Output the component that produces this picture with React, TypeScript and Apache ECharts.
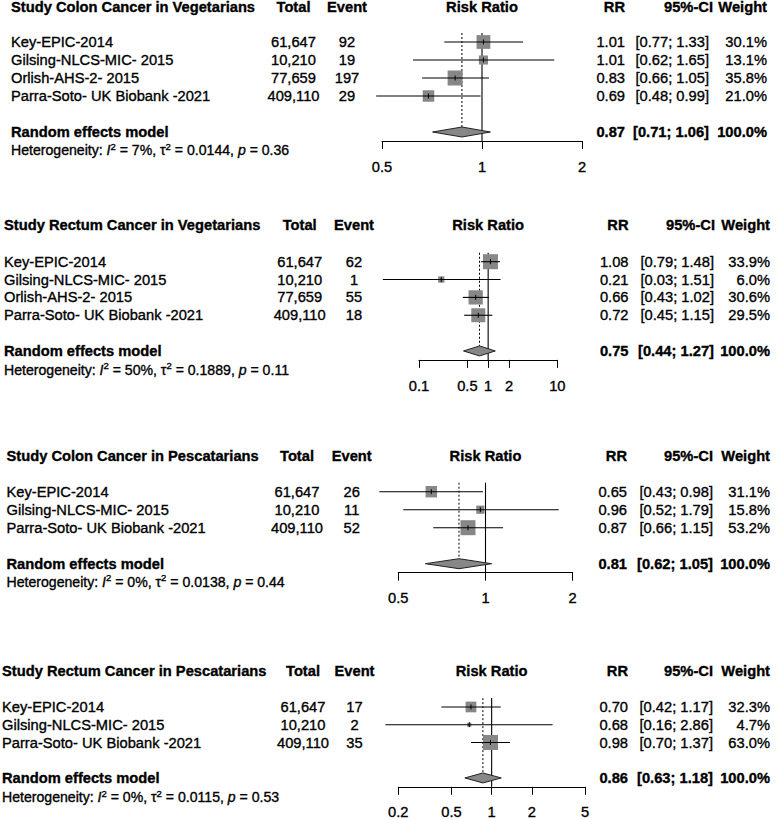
import React, { useEffect, useRef } from "react";
import * as echarts from "echarts";

// ---------- Data ----------
const studyNames4 = ["Key-EPIC-2014", "Gilsing-NLCS-MIC- 2015", "Orlish-AHS-2- 2015", "Parra-Soto- UK Biobank -2021"];
const studyNames3 = ["Key-EPIC-2014", "Gilsing-NLCS-MIC- 2015", "Parra-Soto- UK Biobank -2021"];
const totals4 = [61647, 10210, 77659, 409110];
const totals3 = [61647, 10210, 409110];

// Panel 1: Colon cancer, vegetarians
const p1Title = "Study Colon Cancer in Vegetarians";
const p1Events = [92, 19, 197, 29];
const p1RR = [1.01, 1.01, 0.83, 0.69];
const p1Lower = [0.77, 0.62, 0.66, 0.48];
const p1Upper = [1.33, 1.65, 1.05, 0.99];
const p1Weight = [30.1, 13.1, 35.8, 21.0];
const p1Summary = [0.87, 0.71, 1.06];
const p1Het = ["7%", "0.0144", "0.36"];
const p1Ticks = [0.5, 1, 2];

// Panel 2: Rectum cancer, vegetarians
const p2Title = "Study Rectum Cancer in Vegetarians";
const p2Events = [62, 1, 55, 18];
const p2RR = [1.08, 0.21, 0.66, 0.72];
const p2Lower = [0.79, 0.03, 0.43, 0.45];
const p2Upper = [1.48, 1.51, 1.02, 1.15];
const p2Weight = [33.9, 6.0, 30.6, 29.5];
const p2Summary = [0.75, 0.44, 1.27];
const p2Het = ["50%", "0.1889", "0.11"];
const p2Ticks = [0.1, 0.5, 1, 2, 10];

// Panel 3: Colon cancer, pescatarians
const p3Title = "Study Colon Cancer in Pescatarians";
const p3Events = [26, 11, 52];
const p3RR = [0.65, 0.96, 0.87];
const p3Lower = [0.43, 0.52, 0.66];
const p3Upper = [0.98, 1.79, 1.15];
const p3Weight = [31.1, 15.8, 53.2];
const p3Summary = [0.81, 0.62, 1.05];
const p3Het = ["0%", "0.0138", "0.44"];
const p3Ticks = [0.5, 1, 2];

// Panel 4: Rectum cancer, pescatarians
const p4Title = "Study Rectum Cancer in Pescatarians";
const p4Events = [17, 2, 35];
const p4RR = [0.70, 0.68, 0.98];
const p4Lower = [0.42, 0.16, 0.70];
const p4Upper = [1.17, 2.86, 1.37];
const p4Weight = [32.3, 4.7, 63.0];
const p4Summary = [0.86, 0.63, 1.18];
const p4Het = ["0%", "0.0115", "0.53"];
const p4Ticks = [0.2, 0.5, 1, 2, 5];

const panels = [
  { title: p1Title, studies: studyNames4, totals: totals4, events: p1Events, rr: p1RR, lower: p1Lower, upper: p1Upper, weight: p1Weight, summary: p1Summary, het: p1Het, ticks: p1Ticks },
  { title: p2Title, studies: studyNames4, totals: totals4, events: p2Events, rr: p2RR, lower: p2Lower, upper: p2Upper, weight: p2Weight, summary: p2Summary, het: p2Het, ticks: p2Ticks },
  { title: p3Title, studies: studyNames3, totals: totals3, events: p3Events, rr: p3RR, lower: p3Lower, upper: p3Upper, weight: p3Weight, summary: p3Summary, het: p3Het, ticks: p3Ticks },
  { title: p4Title, studies: studyNames3, totals: totals3, events: p4Events, rr: p4RR, lower: p4Lower, upper: p4Upper, weight: p4Weight, summary: p4Summary, het: p4Het, ticks: p4Ticks },
];

// ---------- Layout ----------
const LAYOUT = [
  { headerY: 7, row0: 42, step: 18, axL: 382, axR: 582, sx: 11, tx: 293.5, ex: 347, rrx: 625, cix: 709, cihx: 713, wx: 767, hetGap: 18, lblMargin: 18 },
  { headerY: 225, row0: 261.7, step: 17.85, axL: 419, axR: 557.3, sx: 4, tx: 299.7, ex: 354, rrx: 628.5, cix: 714, cihx: 715, wx: 770, hetGap: 19, lblMargin: 19 },
  { headerY: 455.7, row0: 491.7, step: 18, axL: 398.3, axR: 572.7, sx: 6.5, tx: 297, ex: 351.7, rrx: 627, cix: 713, cihx: 713, wx: 770, hetGap: 18, lblMargin: 18 },
  { headerY: 671, row0: 707, step: 17.8, axL: 398.3, axR: 585, sx: 2, tx: 303, ex: 354.5, rrx: 628, cix: 713, cihx: 713, wx: 770, hetGap: 19, lblMargin: 18 },
];

const FONT = '"Liberation Sans", Arial, Helvetica, sans-serif';
const FS = 14.7;
const HFS = 14.1;
const BOX_MAX = 15;
const TEXT_STROKE = 0.35;
const L = (v: number) => Math.log10(v);

function txt(x: number, y: number, text: string, align = "left", bold = false, size = FS) {
  return {
    type: "text",
    x,
    y,
    silent: true,
    style: {
      text,
      fill: "#000",
      stroke: "#000",
      lineWidth: TEXT_STROKE,
      fontSize: size,
      fontFamily: FONT,
      fontWeight: bold ? "bold" : "normal",
      textAlign: align,
      align,
      textVerticalAlign: "middle",
      verticalAlign: "middle",
    },
  };
}

function hetText(x: number, y: number, het: string[]) {
  const base = { fontFamily: FONT, fill: "#000", stroke: "#000", lineWidth: TEXT_STROKE };
  return {
    type: "text",
    x,
    y,
    silent: true,
    style: {
      text: `{n|Heterogeneity: }{i|I}{s|2}{n| = ${het[0]}, τ}{s|2}{n| = ${het[1]}, }{i|p}{n| = ${het[2]}}`,
      fill: "#000",
      fontSize: HFS,
      fontFamily: FONT,
      textAlign: "left",
      align: "left",
      textVerticalAlign: "middle",
      verticalAlign: "middle",
      rich: {
        n: { ...base, fontSize: HFS, lineHeight: 18 },
        i: { ...base, fontSize: HFS, fontStyle: "italic", lineHeight: 18 },
        s: { ...base, fontSize: 9.5, lineHeight: 11, verticalAlign: "top" },
      },
    },
  };
}

function buildOption() {
  const grid: any[] = [];
  const xAxis: any[] = [];
  const yAxis: any[] = [];
  const series: any[] = [];
  const graphics: any[] = [];

  panels.forEach((p, k) => {
    const lay = LAYOUT[k];
    const n = p.studies.length;
    const sumRow = n + 1;
    const tickVals = p.ticks.map(L);
    const lmin = tickVals[0];
    const lmax = tickVals[tickVals.length - 1];

    grid.push({ left: lay.axL, top: lay.row0 - lay.step / 2, width: lay.axR - lay.axL, height: (n + 2) * lay.step, containLabel: false });
    xAxis.push({
      gridIndex: k,
      type: "value",
      min: lmin,
      max: lmax,
      position: "bottom",
      axisLine: { show: true, onZero: false, lineStyle: { color: "#000", width: 1 } },
      axisTick: { show: true, length: 8, customValues: tickVals, lineStyle: { color: "#000", width: 1 } },
      axisLabel: {
        show: true,
        customValues: tickVals,
        margin: lay.lblMargin,
        color: "#000",
        fontSize: FS,
        fontFamily: FONT,
        textBorderColor: "#000",
        textBorderWidth: TEXT_STROKE,
        formatter: (v: number) => {
          const t = p.ticks.find((tv) => Math.abs(L(tv) - v) < 1e-6);
          return t === undefined ? "" : String(t);
        },
      },
      splitLine: { show: false },
    });
    yAxis.push({ gridIndex: k, type: "value", min: -0.5, max: n + 1.5, inverse: true, show: false });

    // reference lines: solid at RR = 1, dotted at pooled estimate
    series.push({
      type: "custom",
      xAxisIndex: k,
      yAxisIndex: k,
      clip: false,
      z: 1,
      silent: true,
      data: [[0, L(p.summary[0])]],
      renderItem: (params: any, api: any) => {
        const top = api.coord([api.value(0), -0.5]);
        const bot = api.coord([api.value(0), n + 1.5]);
        const dTop = api.coord([api.value(1), -0.5]);
        const dBot = api.coord([api.value(1), sumRow]);
        return {
          type: "group",
          children: [
            { type: "line", shape: { x1: top[0], y1: top[1], x2: bot[0], y2: bot[1] }, style: { stroke: "#000", lineWidth: 1.1 } },
            { type: "line", shape: { x1: dTop[0], y1: dTop[1], x2: dBot[0], y2: dBot[1] - 5 }, style: { stroke: "#000", lineWidth: 1, lineDash: [2, 2] } },
          ],
        };
      },
    });

    // studies: boxes and CI lines
    const wmax = Math.max(...p.weight);
    series.push({
      type: "custom",
      xAxisIndex: k,
      yAxisIndex: k,
      clip: false,
      z: 2,
      silent: true,
      data: p.rr.map((r, i) => [L(r), L(p.lower[i]), L(p.upper[i]), i, BOX_MAX * Math.sqrt(p.weight[i] / wmax)]),
      renderItem: (params: any, api: any) => {
        const row = api.value(3);
        const c = api.coord([api.value(0), row]);
        const lo = api.coord([api.value(1), row]);
        const hi = api.coord([api.value(2), row]);
        const s = api.value(4);
        return {
          type: "group",
          children: [
            { type: "rect", shape: { x: c[0] - s / 2, y: c[1] - s / 2, width: s, height: s }, style: { fill: "#878787" } },
            { type: "line", shape: { x1: lo[0], y1: c[1], x2: hi[0], y2: c[1] }, style: { stroke: "#000", lineWidth: 1.1 } },
            { type: "line", shape: { x1: c[0], y1: c[1] - 2.5, x2: c[0], y2: c[1] + 2.5 }, style: { stroke: "#000", lineWidth: 1 } },
          ],
        };
      },
    });

    // pooled diamond
    series.push({
      type: "custom",
      xAxisIndex: k,
      yAxisIndex: k,
      clip: false,
      z: 3,
      silent: true,
      data: [[L(p.summary[0]), L(p.summary[1]), L(p.summary[2]), sumRow]],
      renderItem: (params: any, api: any) => {
        const row = api.value(3);
        const c = api.coord([api.value(0), row]);
        const lo = api.coord([api.value(1), row]);
        const hi = api.coord([api.value(2), row]);
        return {
          type: "polygon",
          shape: { points: [[lo[0], c[1]], [c[0], c[1] - 5], [hi[0], c[1]], [c[0], c[1] + 5]] },
          style: { fill: "#878787", stroke: "#222", lineWidth: 1 },
        };
      },
    });

    // texts
    const oneX = lay.axL + ((0 - lmin) / (lmax - lmin)) * (lay.axR - lay.axL);
    graphics.push(txt(lay.sx, lay.headerY, p.title, "left", true));
    graphics.push(txt(lay.tx, lay.headerY, "Total", "center", true));
    graphics.push(txt(lay.ex, lay.headerY, "Event", "center", true));
    graphics.push(txt(oneX, lay.headerY, "Risk Ratio", "center", true));
    graphics.push(txt(lay.rrx, lay.headerY, "RR", "right", true));
    graphics.push(txt(lay.cihx, lay.headerY, "95%-CI", "right", true));
    graphics.push(txt(lay.wx, lay.headerY, "Weight", "right", true));

    p.studies.forEach((name, i) => {
      const y = lay.row0 + i * lay.step;
      graphics.push(txt(lay.sx, y, name, "left"));
      graphics.push(txt(lay.tx, y, p.totals[i].toLocaleString("en-US"), "center"));
      graphics.push(txt(lay.ex, y, String(p.events[i]), "center"));
      graphics.push(txt(lay.rrx, y, p.rr[i].toFixed(2), "right"));
      graphics.push(txt(lay.cix, y, `[${p.lower[i].toFixed(2)}; ${p.upper[i].toFixed(2)}]`, "right"));
      graphics.push(txt(lay.wx, y, `${p.weight[i].toFixed(1)}%`, "right"));
    });

    const sy = lay.row0 + sumRow * lay.step;
    graphics.push(txt(lay.sx, sy, "Random effects model", "left", true));
    graphics.push(txt(lay.rrx, sy, p.summary[0].toFixed(2), "right", true));
    graphics.push(txt(lay.cix, sy, `[${p.summary[1].toFixed(2)}; ${p.summary[2].toFixed(2)}]`, "right", true));
    graphics.push(txt(lay.wx, sy, "100.0%", "right", true));
    graphics.push(hetText(lay.sx, sy + lay.hetGap, p.het));
  });

  return {
    animation: false,
    backgroundColor: "#fff",
    grid,
    xAxis,
    yAxis,
    series,
    graphic: { elements: graphics },
  };
}

export default function App() {
  const ref = useRef<HTMLDivElement>(null);
  useEffect(() => {
    const chart = echarts.init(ref.current as HTMLDivElement, null, { renderer: "svg" });
    chart.setOption(buildOption() as any);
    return () => chart.dispose();
  }, []);
  return <div ref={ref} style={{ position: "fixed", left: 0, top: 0, width: 777, height: 820, background: "#fff" }} />;
}
